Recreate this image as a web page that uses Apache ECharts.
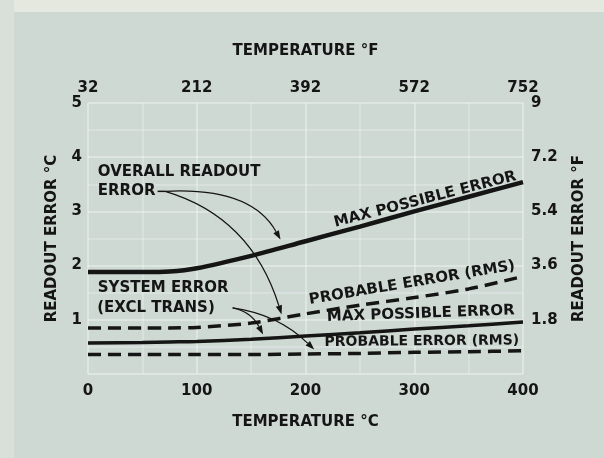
<!DOCTYPE html>
<html>
<head>
<meta charset="utf-8">
<script src="https://cdn.jsdelivr.net/npm/echarts@6/dist/echarts.min.js"></script>
<style>
  html, body { margin: 0; padding: 0; background: #cfd9d4; }
  #chart { width: 604px; height: 458px; }
</style>
</head>
<body>
<div id="chart"></div>
<script>
// Temperature sample points (°C) shared by all four curves
const temps = [0, 50, 75, 100, 150, 200, 250, 300, 350, 400];

// Overall readout error (°C)
const overallMax  = [1.88, 1.88, 1.89, 1.95, 2.18, 2.45, 2.72, 3.00, 3.27, 3.54];
const overallProb = [0.85, 0.85, 0.85, 0.86, 0.94, 1.11, 1.27, 1.41, 1.57, 1.80];

// System error, excluding transducer (°C)
const systemMax   = [0.57, 0.58, 0.59, 0.60, 0.64, 0.70, 0.76, 0.83, 0.89, 0.96];
const systemProb  = [0.36, 0.36, 0.36, 0.36, 0.36, 0.37, 0.38, 0.40, 0.41, 0.43];

// Tick labels
const celsiusTicks    = ['0', '100', '200', '300', '400'];
const fahrenheitTicks = ['32', '212', '392', '572', '752'];
const errCTicks       = ['', '1', '2', '3', '4', '5'];
const errFTicks       = ['', '1.8', '3.6', '5.4', '7.2', '9'];

const FONT = 'DejaVu Sans';
const INK = '#151515';

const pairs = vals => temps.map((t, i) => [t, vals[i]]);

const chart = echarts.init(document.getElementById('chart'), null, { renderer: 'canvas' });

const labelStyle = { color: INK, fontFamily: FONT, fontWeight: 'bold', fontSize: 15 };
const nameStyle  = { color: INK, fontFamily: FONT, fontWeight: 'bold', fontSize: 15 };
const gridLine = { show: true, lineStyle: { color: 'rgba(240,246,243,0.45)', width: 2 } };
const minorLine = { show: true, lineStyle: { color: 'rgba(240,246,243,0.3)', width: 2 } };

chart.setOption({
  backgroundColor: '#cfd9d4',
  animation: false,
  grid: { left: 88, right: 81, top: 103, bottom: 84 },
  xAxis: [
    {
      type: 'value', position: 'bottom', min: 0, max: 400, interval: 100,
      name: 'TEMPERATURE °C', nameLocation: 'middle', nameGap: 41, nameTextStyle: nameStyle,
      axisLine: { show: false }, axisTick: { show: false },
      axisLabel: Object.assign({ margin: 10, formatter: v => celsiusTicks[v / 100] }, labelStyle),
      splitLine: gridLine,
      minorTick: { show: false, splitNumber: 2 },
      minorSplitLine: minorLine
    },
    {
      type: 'value', position: 'top', min: 0, max: 400, interval: 100,
      name: 'TEMPERATURE °F', nameLocation: 'middle', nameGap: 44, nameTextStyle: nameStyle,
      axisLine: { show: false }, axisTick: { show: false },
      axisLabel: Object.assign({ margin: 7, formatter: v => fahrenheitTicks[v / 100] }, labelStyle),
      splitLine: { show: false }
    }
  ],
  yAxis: [
    {
      type: 'value', position: 'left', min: 0, max: 5, interval: 1,
      name: 'READOUT ERROR °C', nameLocation: 'middle', nameGap: 28, nameRotate: 90,
      nameTextStyle: nameStyle,
      axisLine: { show: false }, axisTick: { show: false },
      axisLabel: Object.assign({ margin: 6, formatter: v => errCTicks[Math.round(v)] }, labelStyle),
      splitLine: gridLine,
      minorTick: { show: false, splitNumber: 2 },
      minorSplitLine: minorLine
    },
    {
      type: 'value', position: 'right', min: 0, max: 5, interval: 1,
      name: 'READOUT ERROR °F', nameLocation: 'middle', nameGap: 49, nameRotate: 90,
      nameTextStyle: nameStyle,
      axisLine: { show: false }, axisTick: { show: false },
      axisLabel: Object.assign({ margin: 8, formatter: v => errFTicks[Math.round(v)] }, labelStyle),
      splitLine: { show: false }
    }
  ],
  series: [
    { name: 'Overall max possible error', type: 'line', data: pairs(overallMax), smooth: 0.3,
      showSymbol: false, lineStyle: { color: INK, width: 4.5 } },
    { name: 'Overall probable error (RMS)', type: 'line', data: pairs(overallProb), smooth: 0.3,
      showSymbol: false, lineStyle: { color: INK, width: 3.5, type: [13, 7] } },
    { name: 'System max possible error', type: 'line', data: pairs(systemMax), smooth: 0.3,
      showSymbol: false, lineStyle: { color: INK, width: 3.5 } },
    { name: 'System probable error (RMS)', type: 'line', data: pairs(systemProb), smooth: 0.3,
      showSymbol: false, lineStyle: { color: INK, width: 3.5, type: [13, 7] } }
  ]
});

// Annotation text and pointer arrows, placed in data coordinates
const px = (t, v) => chart.convertToPixel({ xAxisIndex: 0, yAxisIndex: 0 }, [t, v]);

function text(str, t, v, opts) {
  const p = px(t, v);
  return {
    type: 'text', x: p[0], y: p[1], rotation: (opts.angle || 0) * Math.PI / 180, z: 10,
    style: {
      text: str, fill: INK, font: 'bold ' + (opts.size || 15) + 'px "' + FONT + '"',
      align: opts.align || 'center', verticalAlign: 'middle'
    }
  };
}

function arrow(from, ctrl, to) {
  const a = px(from[0], from[1]), c = px(ctrl[0], ctrl[1]), b = px(to[0], to[1]);
  const ang = Math.atan2(b[1] - c[1], b[0] - c[0]);
  const L = 9, W = 3.2;
  const back = [b[0] - L * Math.cos(ang), b[1] - L * Math.sin(ang)];
  const nx = -Math.sin(ang), ny = Math.cos(ang);
  return [
    { type: 'bezierCurve', z: 9,
      shape: { x1: a[0], y1: a[1], cpx1: c[0], cpy1: c[1], x2: back[0], y2: back[1] },
      style: { stroke: INK, lineWidth: 1.2, fill: null } },
    { type: 'polygon', z: 9,
      shape: { points: [b, [back[0] + nx * W, back[1] + ny * W], [back[0] - nx * W, back[1] - ny * W]] },
      style: { fill: INK } }
  ];
}

const g = [
  // lighter paper margins along the top and left edges
  { type: 'rect', z: 0, shape: { x: 0, y: 0, width: 604, height: 12 }, style: { fill: '#e4e8de' } },
  { type: 'rect', z: 0, shape: { x: 0, y: 0, width: 14, height: 458 }, style: { fill: '#d9e0da' } },
  text('OVERALL READOUT', 9, 3.72, { align: 'left' }),
  text('ERROR', 9, 3.38, { align: 'left' }),
  text('SYSTEM ERROR', 9, 1.58, { align: 'left' }),
  text('(EXCL TRANS)', 8.5, 1.22, { align: 'left' }),
  text('MAX POSSIBLE ERROR', 310, 3.22, { angle: 14.5 }),
  text('PROBABLE ERROR (RMS)', 298, 1.68, { angle: 9.5 }),
  text('MAX POSSIBLE ERROR', 306, 1.11, { angle: 2 }),
  text('PROBABLE ERROR (RMS)', 307, 0.60, { size: 14, angle: 0.5 })
];
const ePos = px(64, 3.37);
const eEnd = px(71, 3.37);
g.push({ type: 'line', z: 9, shape: { x1: ePos[0], y1: ePos[1], x2: eEnd[0], y2: eEnd[1] },
         style: { stroke: INK, lineWidth: 1.5 } });
g.push(...arrow([71, 3.37], [150, 3.45], [177, 2.48]));
g.push(...arrow([71, 3.37], [150, 2.9], [178, 1.1]));
g.push(...arrow([133, 1.22], [150, 1.15], [161, 0.73]));
g.push(...arrow([133, 1.22], [175, 1.1], [208, 0.45]));

chart.setOption({ graphic: g });
</script>
</body>
</html>
